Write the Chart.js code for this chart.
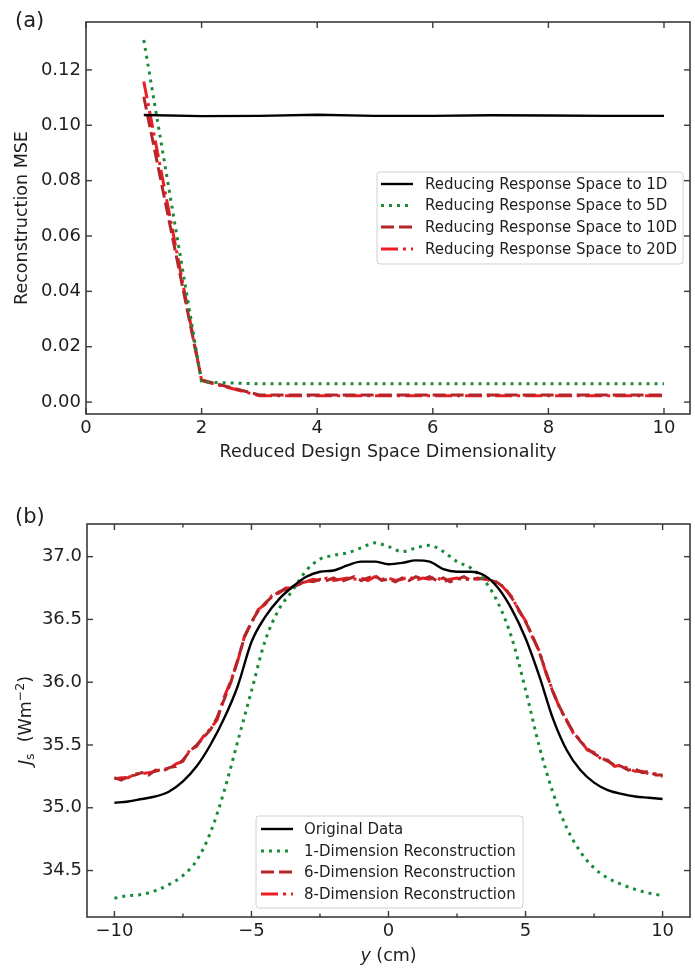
<!DOCTYPE html>
<html><head><meta charset="utf-8">
<script src="https://cdn.jsdelivr.net/npm/chart.js@4.4.0/dist/chart.umd.min.js"></script>
<style>
html,body{margin:0;padding:0;background:#fff;}
#wrap{position:relative;width:695px;height:968px;overflow:hidden;}
canvas{position:absolute;left:0;}
#c1{top:0}
#c2{top:480px}
</style></head><body>
<div id="wrap"><canvas id="c1" width="695" height="480"></canvas><canvas id="c2" width="695" height="488"></canvas></div>
<script>
// ---------- Panel (a) data ----------
const dimsA = [1, 2, 3, 4, 5, 6, 7, 8, 9, 10];
const mse1D  = [0.1037, 0.1033, 0.1034, 0.1038, 0.1034, 0.1034, 0.1036, 0.1035, 0.1034, 0.1034];
const mse5D  = [0.1308, 0.0072, 0.0066, 0.0066, 0.0066, 0.0066, 0.0066, 0.0066, 0.0066, 0.0066];
const mse10D = [0.1103, 0.0080, 0.0026, 0.0026, 0.0026, 0.0026, 0.0026, 0.0026, 0.0026, 0.0026];
const mse20D = [0.1158, 0.0078, 0.0023, 0.0023, 0.0023, 0.0023, 0.0023, 0.0023, 0.0023, 0.0023];
const labelsA = ['Reducing Response Space to 1D', 'Reducing Response Space to 5D',
                 'Reducing Response Space to 10D', 'Reducing Response Space to 20D'];

// ---------- Panel (b) data ----------
const yHalf = [-10, -9.5, -9, -8.5, -8, -7.5, -7, -6.5, -6, -5.5, -5, -4.5, -4, -3.5, -3, -2.5, -2, -1.5, -1, -0.5,
               0, 0.5, 1, 1.5, 2, 2.5, 3, 3.5, 4, 4.5, 5, 5.5, 6, 6.5, 7, 7.5, 8, 8.5, 9, 9.5, 10];
const original = [35.04, 35.05, 35.07, 35.09, 35.13, 35.21, 35.33, 35.50, 35.71, 35.97,
                  36.32, 36.52, 36.66, 36.76, 36.84, 36.88, 36.89, 36.93, 36.96, 36.96,
                  36.94, 36.95, 36.97, 36.96, 36.90, 36.88, 36.88, 36.85, 36.75, 36.58,
                  36.35, 36.05, 35.71, 35.46, 35.30, 35.20, 35.14, 35.11, 35.09, 35.08, 35.07];
const recon1 = [34.28, 34.30, 34.31, 34.34, 34.39, 34.46, 34.58, 34.80, 35.13, 35.53,
                35.93, 36.33, 36.58, 36.73, 36.89, 36.98, 37.01, 37.03, 37.07, 37.11,
                37.08, 37.04, 37.07, 37.09, 37.04, 36.96, 36.91, 36.81, 36.63, 36.35,
                35.94, 35.49, 35.12, 34.84, 34.65, 34.52, 34.44, 34.39, 34.35, 34.32, 34.30];
const yQuarter = [-10, -9.75, -9.5, -9.25, -9, -8.75, -8.5, -8.25, -8, -7.75,
                  -7.5, -7.25, -7, -6.75, -6.5, -6.25, -6, -5.75, -5.5, -5.25,
                  -5, -4.75, -4.5, -4.25, -4, -3.75, -3.5, -3.25, -3, -2.75,
                  -2.5, -2.25, -2, -1.75, -1.5, -1.25, -1, -0.75, -0.5, -0.25,
                  0, 0.25, 0.5, 0.75, 1, 1.25, 1.5, 1.75, 2, 2.25,
                  2.5, 2.75, 3, 3.25, 3.5, 3.75, 4, 4.25, 4.5, 4.75,
                  5, 5.25, 5.5, 5.75, 6, 6.25, 6.5, 6.75, 7, 7.25,
                  7.5, 7.75, 8, 8.25, 8.5, 8.75, 9, 9.25, 9.5, 9.75, 10];
const recon6 = [35.24, 35.22, 35.25, 35.26, 35.28, 35.26, 35.30, 35.29, 35.32, 35.33,
                35.38, 35.45, 35.50, 35.56, 35.62, 35.72, 35.86, 36.00, 36.18, 36.36,
                36.48, 36.57, 36.63, 36.68, 36.72, 36.74, 36.76, 36.78, 36.81, 36.80,
                36.82, 36.81, 36.83, 36.80, 36.82, 36.84, 36.81, 36.83, 36.85, 36.81,
                36.82, 36.80, 36.83, 36.81, 36.84, 36.82, 36.84, 36.81, 36.83, 36.80,
                36.82, 36.84, 36.81, 36.83, 36.82, 36.81, 36.79, 36.75, 36.67, 36.58,
                36.48, 36.37, 36.24, 36.08, 35.92, 35.80, 35.69, 35.60, 35.53, 35.47,
                35.43, 35.40, 35.37, 35.34, 35.33, 35.30, 35.31, 35.28, 35.29, 35.26, 35.26];
const recon8 = [35.23, 35.24, 35.24, 35.27, 35.27, 35.28, 35.29, 35.31, 35.31, 35.35,
                35.37, 35.46, 35.49, 35.57, 35.63, 35.70, 35.88, 36.01, 36.17, 36.37,
                36.47, 36.58, 36.62, 36.69, 36.71, 36.75, 36.75, 36.79, 36.80, 36.82,
                36.81, 36.83, 36.81, 36.82, 36.83, 36.82, 36.83, 36.81, 36.84, 36.82,
                36.83, 36.81, 36.82, 36.84, 36.81, 36.83, 36.82, 36.84, 36.80, 36.82,
                36.83, 36.81, 36.83, 36.82, 36.83, 36.80, 36.80, 36.74, 36.68, 36.57,
                36.49, 36.36, 36.25, 36.07, 35.93, 35.79, 35.70, 35.59, 35.54, 35.46,
                35.44, 35.39, 35.38, 35.33, 35.34, 35.31, 35.29, 35.29, 35.27, 35.27, 35.25];
const labelsB = ['Original Data', '1-Dimension Reconstruction', '6-Dimension Reconstruction', '8-Dimension Reconstruction'];

// ---------- styling ----------
const FONT = '"DejaVu Sans", sans-serif';
const TXT = '#1e1e1e';
const FRAME = '#3a3a3a';
const C_BLACK = '#000000', C_GREEN = '#1b8a3a', C_DRED = '#b3262a', C_RED = '#ee1d23';
const styles = [
  {color: C_BLACK, width: 2.4, dash: []},
  {color: C_GREEN, width: 3, dash: [3, 5]},
  {color: C_DRED, width: 3, dash: [13, 5]},
  {color: C_RED, width: 3, dash: [17, 5, 3, 5]}
];

function pts(xs, ys) { return xs.map((x, i) => ({x: x, y: ys[i]})); }
function ds(label, data, st, extra) {
  return Object.assign({label, data, borderColor: st.color, borderWidth: st.width, borderDash: st.dash,
    pointRadius: 0, fill: false, tension: 0, borderCapStyle: 'butt'}, extra || {});
}

function drawRich(ctx, segs, cx, cy, rotate) {
  ctx.save();
  ctx.translate(cx, cy);
  if (rotate) ctx.rotate(-Math.PI / 2);
  ctx.fillStyle = TXT; ctx.textAlign = 'left'; ctx.textBaseline = 'alphabetic';
  let total = 0;
  segs.forEach(s => { ctx.font = s.font; s.w = ctx.measureText(s.t).width; total += s.w; });
  let x = -total / 2;
  segs.forEach(s => { ctx.font = s.font; ctx.fillText(s.t, x, 6 + (s.dy || 0)); x += s.w; });
  ctx.restore();
}

function drawLegend(ctx, box, rows, sample, textX, labels) {
  ctx.save();
  const r = 3;
  ctx.beginPath();
  ctx.moveTo(box.l + r, box.t); ctx.lineTo(box.r - r, box.t); ctx.quadraticCurveTo(box.r, box.t, box.r, box.t + r);
  ctx.lineTo(box.r, box.b - r); ctx.quadraticCurveTo(box.r, box.b, box.r - r, box.b);
  ctx.lineTo(box.l + r, box.b); ctx.quadraticCurveTo(box.l, box.b, box.l, box.b - r);
  ctx.lineTo(box.l, box.t + r); ctx.quadraticCurveTo(box.l, box.t, box.l + r, box.t);
  ctx.closePath();
  ctx.fillStyle = 'rgba(255,255,255,0.85)'; ctx.fill();
  ctx.strokeStyle = '#d0d0d0'; ctx.lineWidth = 1; ctx.stroke();
  labels.forEach((lab, i) => {
    const st = styles[i], y = rows[i];
    ctx.beginPath(); ctx.setLineDash(st.dash); ctx.strokeStyle = st.color; ctx.lineWidth = st.width;
    ctx.moveTo(sample[0], y); ctx.lineTo(sample[1], y); ctx.stroke();
    ctx.setLineDash([]);
    ctx.fillStyle = TXT; ctx.font = '15px ' + FONT; ctx.textBaseline = 'middle'; ctx.textAlign = 'left';
    ctx.fillText(lab, textX, y + 1);
  });
  ctx.restore();
}

const deco = {
  id: 'deco',
  afterDatasetsDraw(chart, args, o) {
    const ctx = chart.ctx, a = chart.chartArea;
    const xs = chart.scales.x, ys = chart.scales.y;
    ctx.save();
    ctx.strokeStyle = FRAME; ctx.lineWidth = 1.4; ctx.setLineDash([]);
    const seg = (x1, y1, x2, y2) => { ctx.beginPath(); ctx.moveTo(x1, y1); ctx.lineTo(x2, y2); ctx.stroke(); };
    xs.ticks.forEach(t => {
      const p = xs.getPixelForValue(t.value);
      const L = (o.minorX && o.minorX(t.value)) ? 3.5 : 6;
      seg(p, a.bottom, p, a.bottom - L); seg(p, a.top, p, a.top + L);
    });
    ys.ticks.forEach(t => {
      const p = ys.getPixelForValue(t.value);
      seg(a.left, p, a.left + 6, p); seg(a.right, p, a.right - 6, p);
    });
    ctx.lineWidth = 1.6;
    ctx.strokeRect(a.left, a.top, a.right - a.left, a.bottom - a.top);
    ctx.restore();
    drawLegend(ctx, o.legend.box, o.legend.rows, o.legend.sample, o.legend.textX, o.legend.labels);
    ctx.save();
    ctx.fillStyle = TXT; ctx.font = '21px ' + FONT; ctx.textAlign = 'left'; ctx.textBaseline = 'alphabetic';
    ctx.fillText(o.panel, 15, o.panelY);
    ctx.restore();
    if (o.rich) o.rich(ctx, a);
  }
};

const tickFont = {family: FONT, size: 18};
const titleFont = {family: FONT, size: 17.5};

// ---------- Chart (a) ----------
new Chart(document.getElementById('c1'), {
  type: 'line',
  data: {
    datasets: [
      ds(labelsA[0], pts(dimsA, mse1D), styles[0]),
      ds(labelsA[1], pts(dimsA, mse5D), styles[1]),
      ds(labelsA[2], pts(dimsA, mse10D), styles[2]),
      ds(labelsA[3], pts(dimsA, mse20D), styles[3])
    ]
  },
  options: {
    responsive: false, animation: false, devicePixelRatio: 1,
    layout: {padding: {left: 0, top: 22, right: 5, bottom: 0}},
    scales: {
      x: {
        type: 'linear', min: 0, max: 10.45,
        afterFit: s => { s.height = 66; },
        grid: {display: false, drawTicks: false}, border: {display: false},
        ticks: {stepSize: 2, includeBounds: false, autoSkip: false, maxRotation: 0, padding: 4,
                color: TXT, font: tickFont, callback: v => String(v)},
        title: {display: true, text: 'Reduced Design Space Dimensionality', color: TXT, font: titleFont,
                padding: {top: 0, bottom: 17}}
      },
      y: {
        type: 'linear', min: -0.0043, max: 0.1373,
        afterFit: s => { s.width = 86; },
        grid: {display: false, drawTicks: false}, border: {display: false},
        ticks: {stepSize: 0.02, includeBounds: false, autoSkip: false, padding: 5,
                color: TXT, font: tickFont, callback: v => v.toFixed(2)},
        title: {display: true, text: 'Reconstruction MSE', color: TXT, font: titleFont,
                padding: {top: 12, bottom: 0}}
      }
    },
    plugins: {
      legend: {display: false}, tooltip: {enabled: false},
      deco: {
        panel: '(a)', panelY: 27,
        legend: {box: {l: 377, r: 683, t: 172, b: 264}, rows: [184, 205.5, 227, 249], sample: [381, 413], textX: 425, labels: labelsA}
      }
    }
  },
  plugins: [deco]
});

// ---------- Chart (b) ----------
new Chart(document.getElementById('c2'), {
  type: 'line',
  data: {
    datasets: [
      ds(labelsB[0], pts(yHalf, original), styles[0], {cubicInterpolationMode: 'monotone'}),
      ds(labelsB[1], pts(yHalf, recon1), styles[1], {cubicInterpolationMode: 'monotone'}),
      ds(labelsB[2], pts(yQuarter, recon6), styles[2]),
      ds(labelsB[3], pts(yQuarter, recon8), styles[3])
    ]
  },
  options: {
    responsive: false, animation: false, devicePixelRatio: 1,
    layout: {padding: {left: 0, top: 44, right: 5, bottom: 0}},
    scales: {
      x: {
        type: 'linear', min: -11, max: 11,
        afterFit: s => { s.height = 51; },
        grid: {display: false, drawTicks: false}, border: {display: false},
        ticks: {stepSize: 2.5, includeBounds: false, autoSkip: false, maxRotation: 0, padding: 4,
                color: TXT, font: tickFont,
                callback: v => (Math.abs(v % 5) < 1e-9) ? (v < 0 ? '\u2212' + Math.abs(v) : String(v)) : ''},
        title: {display: false}
      },
      y: {
        type: 'linear', min: 34.13, max: 37.26,
        afterFit: s => { s.width = 87; },
        grid: {display: false, drawTicks: false}, border: {display: false},
        ticks: {stepSize: 0.5, includeBounds: false, autoSkip: false, padding: 5,
                color: TXT, font: tickFont, callback: v => v.toFixed(1)},
        title: {display: false}
      }
    },
    plugins: {
      legend: {display: false}, tooltip: {enabled: false},
      deco: {
        panel: '(b)', panelY: 43,
        minorX: v => Math.abs(v % 5) > 1e-9,
        legend: {box: {l: 256, r: 523, t: 336, b: 428}, rows: [349, 371, 392, 414], sample: [261, 293], textX: 304, labels: labelsB},
        rich: (ctx, a) => {
          drawRich(ctx, [
            {t: 'y', font: 'italic 17.5px ' + FONT},
            {t: ' (cm)', font: '17.5px ' + FONT}
          ], (a.left + a.right) / 2, 475, false);
          drawRich(ctx, [
            {t: 'J', font: 'italic 17.5px ' + FONT},
            {t: 's', font: '12.5px ' + FONT, dy: 3},
            {t: '  (Wm', font: '17.5px ' + FONT},
            {t: '\u22122', font: '12.5px ' + FONT, dy: -7},
            {t: ')', font: '17.5px ' + FONT}
          ], 25, (a.top + a.bottom) / 2, true);
        }
      }
    }
  },
  plugins: [deco]
});
</script>
</body></html>
